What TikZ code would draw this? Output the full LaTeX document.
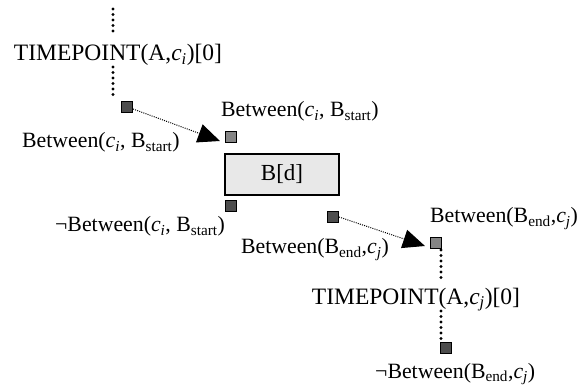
\documentclass[tikz,border=0pt]{standalone}
\usepackage{fontspec}
\setmainfont{Liberation Serif}
\usetikzlibrary{arrows.meta}
\newcommand\myci{\textit{c}\textsubscript{\textit{i}}}
\newcommand\mycj{\textit{c}\textsubscript{\textit{j}}}
\newcommand\myBs{B\textsubscript{start}}
\newcommand\myBe{B\textsubscript{end}}
\definecolor{darksq}{HTML}{4D4D4D}
\definecolor{lightsq}{HTML}{858585}
\definecolor{boxfill}{HTML}{E8E8E8}
\tikzset{
  sqdark/.style={draw=black, line width=1.1pt, fill=darksq, minimum size=11pt, inner sep=0pt},
  sqlight/.style={draw=black, line width=1.1pt, fill=lightsq, minimum size=11pt, inner sep=0pt},
  bbox/.style={draw=black, line width=1.3pt, fill=boxfill, minimum width=114pt, minimum height=41pt, inner sep=0pt, font=\fontsize{23}{27}\selectfont},
  lbl/.style={inner sep=0pt, font=\fontsize{21.8}{26}\selectfont},
  tplbl/.style={inner sep=0pt, font=\fontsize{23.5}{27}\selectfont},
  bigdots/.style={line width=3.3pt, line cap=round, dash pattern=on 0pt off 5.5pt},
  arr/.style={line width=1pt, dash pattern=on 1pt off 1.2pt, -{Triangle[length=22pt,width=19pt]}},
}
\begin{document}
\begin{tikzpicture}[x=1pt,y=-1pt]
\useasboundingbox (0,0) rectangle (583,387);
% squares and box
\node[sqdark]  (sqA) at (127,107) {};
\node[sqlight] (sqB) at (231,137) {};
\node[bbox]    (box) at (282,174.5) {B[d]};
\node[sqdark]  (sqC) at (231,206) {};
\node[sqdark]  (sqD) at (333,217) {};
\node[sqlight] (sqE) at (436,243) {};
\node[sqdark]  (sqF) at (446,348) {};
% labels
\node[tplbl, anchor=base] (tp1) at (118,61) {TIMEPOINT(A,\myci)[0]};
\node[lbl, anchor=base west] (l1) at (221,117) {Between(\myci, \myBs)};
\node[lbl, anchor=base west] (l2) at (22,148) {Between(\myci, \myBs)};
\node[lbl, anchor=base west] (l3) at (55,232) {¬Between(\myci, \myBs)};
\node[lbl, anchor=base east] (l4) at (389,254) {Between(\myBe,\mycj)};
\node[lbl, anchor=base west] (l5) at (430,223) {Between(\myBe,\mycj)};
\node[tplbl, anchor=base] (tp2) at (416,304) {TIMEPOINT(A,\mycj)[0]};
\node[lbl, anchor=base west] (l6) at (375,378) {¬Between(\myBe,\mycj)};
% dotted vertical lines
\coordinate (t1a) at (113,9);
\coordinate (t1b) at (113,33);
\coordinate (t1c) at (113,67);
\coordinate (t1d) at (113,97);
\draw[bigdots] (t1a) -- (t1b);
\draw[bigdots] (t1c) -- (t1d);
\coordinate (t2a) at (441,250);
\coordinate (t2b) at (441,279);
\coordinate (t2c) at (441,311);
\coordinate (t2d) at (441,342);
\draw[bigdots] (t2a) -- (t2b);
\draw[bigdots] (t2c) -- (t2d);
% arrows
\draw[arr] ([yshift=-2pt]sqA.east) -- ([shift={(-5pt,-4pt)}]sqB.west);
\draw[arr] (sqD.east) -- ([shift={(-5pt,-3pt)}]sqE.west);
\end{tikzpicture}
\end{document}
